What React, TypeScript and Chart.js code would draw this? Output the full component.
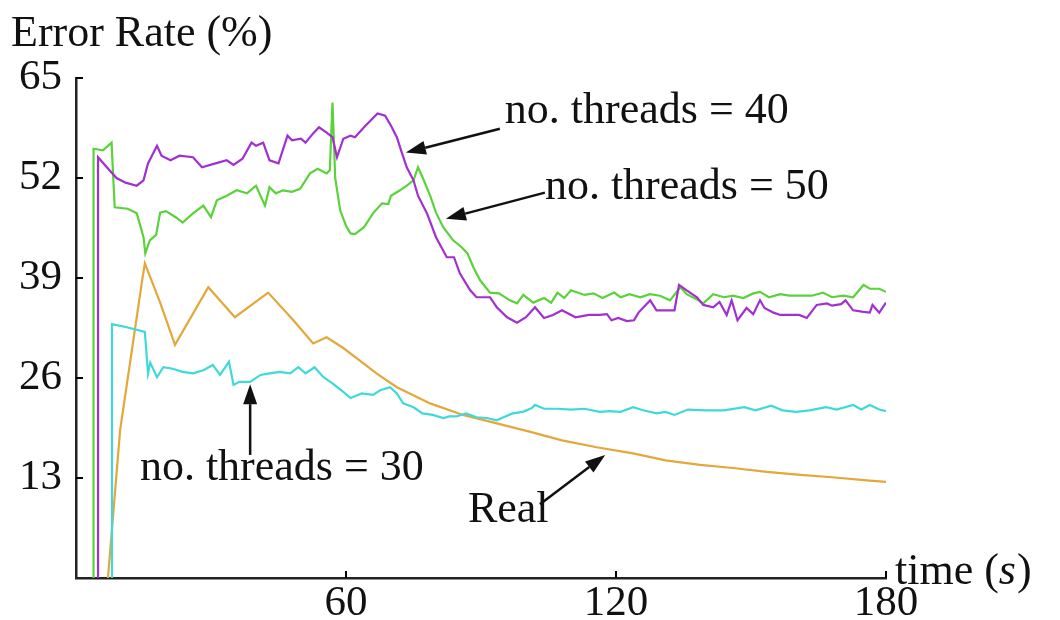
import React, { useEffect, useRef } from "react";
import { Chart, registerables } from "chart.js";

Chart.register(...registerables);

const FONT = '"Liberation Serif", "Times New Roman", serif';

// [time (s), error rate (%)]
const threads40: [number, number][] = [
  [4.9, 0], [4.9, 54.7], [7, 53.3], [9, 52], [11, 51.4], [13.5, 51.0], [15, 51.7], [16, 53.9], [18, 56.2], [19, 54.9],
  [21, 54.3], [23, 54.9], [26, 54.7], [28, 53.4], [31, 53.9], [33.5, 54.3], [35, 53.7], [37, 54.5], [39, 56.6], [40, 56.2],
  [41.6, 56.6], [43, 54.3], [45, 53.9], [47, 57.5], [48, 56.9], [50, 57.1], [51, 56.6], [52.7, 57.8], [54, 58.6], [55.7, 57.9],
  [57, 57.3], [58, 54.7], [59.4, 57.1], [61, 57.5], [62, 57.3], [64, 58.6], [67, 60.4], [68.7, 60.1], [70, 58.8], [71.3, 57.3],
  [72.4, 55.3], [73.5, 53.4], [75, 51.7], [76, 49.7], [78, 47.4], [80, 44.3], [82.4, 41.7], [84, 41.7], [85.3, 39.6], [87.6, 37.4],
  [89, 36.5], [92, 36.5], [93.5, 35.2], [95.8, 33.9], [98, 33.2], [100, 33.9], [102, 35.2], [104, 33.8], [106, 34.2], [108, 34.8],
  [111, 33.9], [114, 34.2], [116.4, 34.2], [118, 34.3], [119, 33.5], [120.5, 33.8], [122.4, 33.4], [124, 33.5], [125, 34.5], [127.6, 36.1],
  [129, 34.8], [133, 34.8], [134, 38.1], [135.7, 37.4], [138, 36.5], [139.4, 35.5], [141.6, 35.2], [143, 35.9], [144.6, 34.2], [145.7, 36.1],
  [147, 33.5], [149, 35.1], [150.5, 34.3], [152, 36.1], [153, 35.1], [155, 34.5], [156.5, 34.2], [158.5, 34.2], [160.7, 34.2], [162.4, 33.8],
  [164.6, 35.5], [166.9, 35.7], [168, 35.4], [170, 35.6], [171, 36.1], [172.7, 34.8], [175, 34.6], [176.4, 34.5], [177, 35.5], [178.5, 34.5],
  [180, 35.8],
];

const threads50: [number, number][] = [
  [3.9, 0], [3.9, 55.8], [6, 55.6], [7.9, 56.6], [8.6, 48.2], [11.5, 48], [13.5, 47.4], [15, 44.3], [15.4, 42.2], [16.4, 43.9],
  [17.8, 44.6], [18.7, 47.5], [20, 47.7], [22.4, 46.8], [23.7, 46.2], [26, 47.4], [28.3, 48.4], [30, 46.9], [31.3, 49.1], [33.5, 49.7],
  [35.7, 50.4], [38, 50], [40, 51], [42, 48.4], [43, 50.8], [44.4, 50], [46, 50.4], [48, 50.2], [49.8, 50.6], [52, 52.6],
  [53.7, 53.2], [55.7, 52.6], [56.4, 53], [57, 61.8], [57.6, 52], [58.7, 47.8], [60, 45.8], [61, 44.8], [62, 44.7], [64, 45.6],
  [66, 47.4], [68, 48.7], [69.4, 48.6], [70, 49.7], [72, 50.4], [73.5, 51], [75, 51.7], [76, 53.4], [77, 52.1], [78.7, 49.7],
  [80, 47.5], [81.6, 45.6], [83.8, 43.9], [85.7, 43], [87, 42.2], [88.3, 40.4], [89.8, 38.7], [92, 37.1], [94, 37], [96.4, 36.1],
  [98, 35.7], [99.4, 36.8], [101.6, 35.8], [104, 36.4], [105.6, 35.8], [107, 37.1], [108.5, 36.4], [110, 37.4], [113, 36.8], [115, 37],
  [117, 36.4], [119.6, 37.1], [121, 36.5], [123, 36.9], [125.4, 36.5], [127.5, 36.9], [129.8, 36.7], [132, 36.1], [134.3, 37.8], [135.7, 36.9],
  [138, 36.2], [139.4, 35.7], [141.6, 36.9], [144, 36.5], [146, 36.7], [148.3, 36.4], [150.5, 37], [152, 37.2], [154, 36.5], [156.5, 36.9],
  [158.5, 36.7], [160.7, 36.7], [163.5, 36.7], [166, 37.1], [168, 36.5], [170.5, 36.7], [172.7, 36.5], [175, 38.1], [176.4, 37.6], [178.5, 37.6],
  [180, 37.2],
];

const threads30: [number, number][] = [
  [8, 0], [8, 33], [11.3, 32.6], [15.3, 32], [16, 26.6], [16.5, 28], [18, 26.1], [19.4, 27.4], [21.5, 27.2], [23.7, 26.8],
  [26, 26.6], [28.3, 27], [30.4, 27.7], [32, 26.4], [34, 28.1], [35, 25.1], [36.3, 25.5], [38.7, 25.5], [41, 26.4], [43, 26.6],
  [45.3, 26.8], [47.6, 26.6], [49.4, 27.4], [51, 26.6], [53, 27.4], [55, 26.1], [57, 25.3], [59.4, 24.2], [61, 23.4], [63.5, 24],
  [66, 23.8], [67.6, 24.4], [69.8, 24.8], [71.3, 24], [72.7, 22.7], [75, 22.2], [77, 21.4], [79.3, 21.2], [81.6, 20.8], [83, 21],
  [84.5, 21], [86.7, 21.4], [89, 20.9], [91.3, 20.8], [93.5, 20.5], [95, 20.9], [97, 21.4], [99.3, 21.6], [101.3, 22.1], [102, 22.5],
  [104, 22], [107, 22], [110, 21.9], [113, 22], [116.4, 21.6], [118.5, 21.7], [121, 21.6], [123.8, 22.2], [126, 21.8], [129, 21.4],
  [131, 21.6], [133, 21.2], [136, 21.9], [140, 21.8], [144, 21.8], [148.5, 22.2], [151, 21.8], [154.5, 22.4], [157, 21.8], [160, 21.6],
  [163, 21.8], [166.7, 22.2], [169, 21.9], [172.7, 22.5], [174.5, 21.9], [176.4, 22.5], [178.5, 21.9], [180, 21.7],
];

const realRate: [number, number][] = [
  [7.1, 0], [9.8, 19.2], [14.7, 38.7], [15.3, 40.9], [18.7, 35.8], [22, 30.3], [29.4, 37.8], [35.3, 33.9], [42.7, 37.1], [48.3, 33.5],
  [52.7, 30.5], [55.7, 31.3], [59.4, 29.9], [63, 28.3], [67, 26.5], [71.3, 24.8], [78.7, 22.7], [86, 21.2], [93.5, 20.1], [101, 19],
  [108, 17.9], [115.7, 17], [123.8, 16.2], [131, 15.3], [138.7, 14.7], [146, 14.3], [153.5, 13.8], [161, 13.4], [168, 13.1], [175.7, 12.7],
  [180, 12.5],
];

const seriesNames = ["no. threads = 40", "no. threads = 50", "no. threads = 30", "Real"];
const yTickStep = 13;
const xTickStep = 60;

// annotation anchors in data coordinates
const annotations = [
  { text: "no. threads = 40", at: [95.3, 60.6], from: [94.2, 58.4], to: [73.3, 55.3] },
  { text: "no. threads = 50", at: [104.2, 50.8], from: [104.2, 50.1], to: [82.2, 46.7] },
  { text: "no. threads = 30", at: [14.2, 14.3], from: [38.7, 16.0], to: [38.7, 25.2] },
  { text: "Real", at: [87.1, 8.8], from: [103.1, 9.6], to: [117.6, 16.0] },
];

const toPoints = (arr: [number, number][]) => arr.map(([x, y]) => ({ x, y }));

const decorPlugin = {
  id: "decor",
  afterDraw(chart: any) {
    const ctx = chart.ctx as CanvasRenderingContext2D;
    const xs = chart.scales.x;
    const ys = chart.scales.y;
    const area = chart.chartArea;
    ctx.save();
    // inward tick marks
    ctx.strokeStyle = "#000";
    ctx.lineWidth = 2;
    ys.ticks.forEach((t: any) => {
      if (t.value === 0) return;
      const py = ys.getPixelForValue(t.value);
      ctx.beginPath();
      ctx.moveTo(area.left, py);
      ctx.lineTo(area.left + 7, py);
      ctx.stroke();
    });
    xs.ticks.forEach((t: any) => {
      if (t.value === 0) return;
      const px = xs.getPixelForValue(t.value);
      ctx.beginPath();
      ctx.moveTo(px, area.bottom);
      ctx.lineTo(px, area.bottom - 7);
      ctx.stroke();
    });

    ctx.fillStyle = "#111";
    // axis titles
    ctx.font = `44px ${FONT}`;
    ctx.textAlign = "left";
    ctx.textBaseline = "alphabetic";
    ctx.fillText("Error Rate (%)", 11, 46);

    ctx.textBaseline = "middle";
    let tx = area.right + 9;
    const ty = area.bottom - 6;
    ctx.fillText("time (", tx, ty);
    tx += ctx.measureText("time (").width;
    ctx.font = `italic 44px ${FONT}`;
    ctx.fillText("s", tx, ty);
    tx += ctx.measureText("s").width + 1;
    ctx.font = `44px ${FONT}`;
    ctx.fillText(")", tx, ty);

    // annotations
    annotations.forEach((a) => {
      ctx.font = `44px ${FONT}`;
      ctx.textAlign = "left";
      ctx.textBaseline = "middle";
      ctx.fillStyle = "#111";
      ctx.fillText(a.text, xs.getPixelForValue(a.at[0]), ys.getPixelForValue(a.at[1]));
      const x1 = xs.getPixelForValue(a.from[0]);
      const y1 = ys.getPixelForValue(a.from[1]);
      const x2 = xs.getPixelForValue(a.to[0]);
      const y2 = ys.getPixelForValue(a.to[1]);
      const ang = Math.atan2(y2 - y1, x2 - x1);
      const headLen = 20;
      const headW = 7;
      const bx = x2 - headLen * Math.cos(ang);
      const by = y2 - headLen * Math.sin(ang);
      ctx.strokeStyle = "#111";
      ctx.lineWidth = 2.5;
      ctx.beginPath();
      ctx.moveTo(x1, y1);
      ctx.lineTo(bx, by);
      ctx.stroke();
      ctx.beginPath();
      ctx.moveTo(x2, y2);
      ctx.lineTo(bx + headW * Math.sin(ang), by - headW * Math.cos(ang));
      ctx.lineTo(bx - headW * Math.sin(ang), by + headW * Math.cos(ang));
      ctx.closePath();
      ctx.fill();
    });
    ctx.restore();
  },
};

export default function App() {
  const canvasRef = useRef<HTMLCanvasElement | null>(null);

  useEffect(() => {
    if (!canvasRef.current) return;
    const tickFont = { family: FONT, size: 43 };
    const chart = new Chart(canvasRef.current, {
      type: "line",
      data: {
        datasets: [
          { label: seriesNames[0], data: toPoints(threads40), borderColor: "#a22fd0", borderWidth: 2.2 },
          { label: seriesNames[1], data: toPoints(threads50), borderColor: "#5ad33a", borderWidth: 2.2 },
          { label: seriesNames[2], data: toPoints(threads30), borderColor: "#3fd9d9", borderWidth: 2.2 },
          { label: seriesNames[3], data: toPoints(realRate), borderColor: "#e3a73a", borderWidth: 2.2 },
        ],
      },
      options: {
        responsive: false,
        animation: false,
        parsing: false as any,
        elements: { point: { radius: 0 }, line: { tension: 0 } },
        layout: { padding: { left: 0, top: 78, right: 174, bottom: 0 } },
        plugins: { legend: { display: false }, tooltip: { enabled: false }, title: { display: false } },
        scales: {
          x: {
            type: "linear",
            min: 0,
            max: 180,
            afterFit: (s: any) => { s.height = 42; },
            grid: { drawOnChartArea: false, drawTicks: false },
            border: { display: true, color: "#222", width: 2.5 },
            ticks: {
              stepSize: xTickStep,
              color: "#111",
              font: tickFont,
              padding: 0,
              maxRotation: 0,
              callback: (v: any) => (v === 0 ? "" : String(v)),
            },
          },
          y: {
            type: "linear",
            min: 0,
            max: 65,
            afterFit: (s: any) => { s.width = 76; },
            grid: { drawOnChartArea: false, drawTicks: false },
            border: { display: true, color: "#222", width: 2.5 },
            ticks: {
              stepSize: yTickStep,
              color: "#111",
              font: tickFont,
              padding: 14,
              callback: (v: any) => (v === 0 ? "" : String(v)),
            },
          },
        },
      },
      plugins: [decorPlugin],
    });
    return () => chart.destroy();
  }, []);

  return (
    <div style={{ position: "absolute", left: 0, top: 0, width: 1060, height: 620, background: "#fff" }}>
      <canvas ref={canvasRef} width={1060} height={620} />
    </div>
  );
}
